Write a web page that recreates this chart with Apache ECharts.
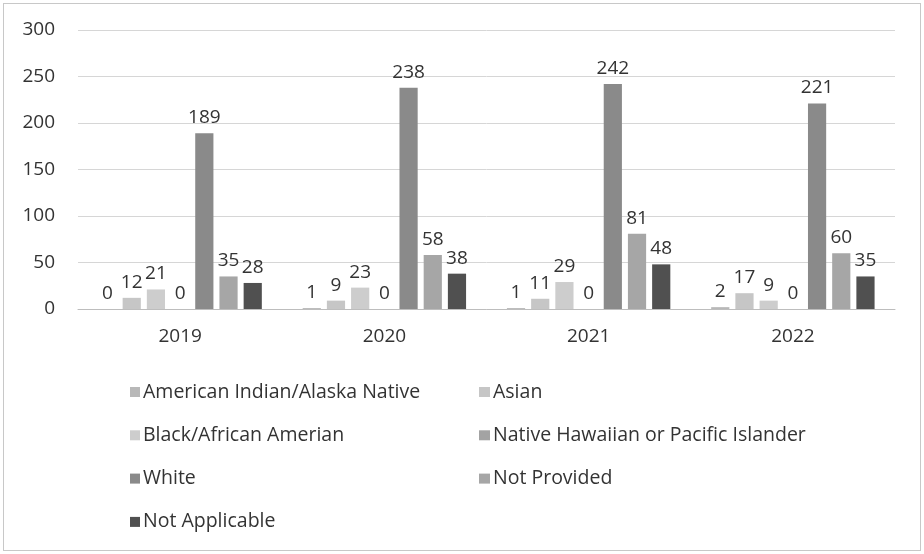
<!DOCTYPE html>
<html>
<head>
<meta charset="utf-8">
<script src="https://cdn.jsdelivr.net/npm/echarts@6/dist/echarts.min.js"></script>
<style>
  html, body { margin: 0; padding: 0; background: #fff; }
  #frame { position: absolute; left: 3px; top: 3px; width: 916px; height: 546px; border: 1px solid #c8c8c8; }
  #main { width: 924px; height: 554px; position: absolute; left: 0; top: 0; }
</style>
</head>
<body>
<div id="frame"></div>
<div id="main"></div>
<script>
var years = ['2019', '2020', '2021', '2022'];
var seriesNames = [
  'American Indian/Alaska Native',
  'Asian',
  'Black/African Amerian',
  'Native Hawaiian or Pacific Islander',
  'White',
  'Not Provided',
  'Not Applicable'
];
var amIndian = [0, 1, 1, 2];
var asian = [12, 9, 11, 17];
var black = [21, 23, 29, 9];
var hawaiian = [0, 0, 0, 0];
var white = [189, 238, 242, 221];
var notProvided = [35, 58, 81, 60];
var notApplicable = [28, 38, 48, 35];
var colors = ['#b8b8b8', '#c6c6c6', '#cdcdcd', '#a3a3a3', '#8a8a8a', '#a6a6a6', '#505050'];

var allData = [amIndian, asian, black, hawaiian, white, notProvided, notApplicable];
var font = '"Open Sans", sans-serif';

var myChart = echarts.init(document.getElementById('main'));

var series = seriesNames.map(function (name, i) {
  return {
    name: name,
    type: 'bar',
    data: allData[i],
    barGap: '33%',
    barCategoryGap: '20%',
    itemStyle: { color: colors[i] },
    label: {
      show: true,
      position: 'top',
      distance: 6,
      fontSize: 19,
      fontFamily: font,
      color: '#333'
    }
  };
});

var legendText = { fontSize: 19.5, color: '#333', lineHeight: 24, fontFamily: font, padding: [0, 0, 0, -2] };

myChart.setOption({
  animation: false,
  textStyle: { fontFamily: font },
  grid: { left: 78, right: 29, top: 30, bottom: 245, containLabel: false },
  xAxis: {
    type: 'category',
    data: years,
    axisLine: { lineStyle: { color: '#bdbdbd' } },
    axisTick: { show: false },
    axisLabel: { fontSize: 19, color: '#333', margin: 18, fontFamily: font }
  },
  yAxis: {
    type: 'value',
    min: 0,
    max: 300,
    interval: 50,
    axisLine: { show: false },
    axisTick: { show: false },
    splitLine: { lineStyle: { color: '#d6d6d6' } },
    axisLabel: { fontSize: 19, color: '#333', margin: 23, fontFamily: font }
  },
  legend: [{
    orient: 'vertical',
    left: 125,
    top: 375,
    itemWidth: 10,
    itemHeight: 10,
    itemGap: 19.3,
    icon: 'rect',
    data: [seriesNames[0], seriesNames[2], seriesNames[4], seriesNames[6]],
    textStyle: legendText
  }, {
    orient: 'vertical',
    left: 474,
    top: 375,
    itemWidth: 11,
    itemHeight: 10,
    itemGap: 19.3,
    icon: 'rect',
    data: [seriesNames[1], seriesNames[3], seriesNames[5]],
    textStyle: legendText
  }],
  series: series
});
</script>
</body>
</html>
